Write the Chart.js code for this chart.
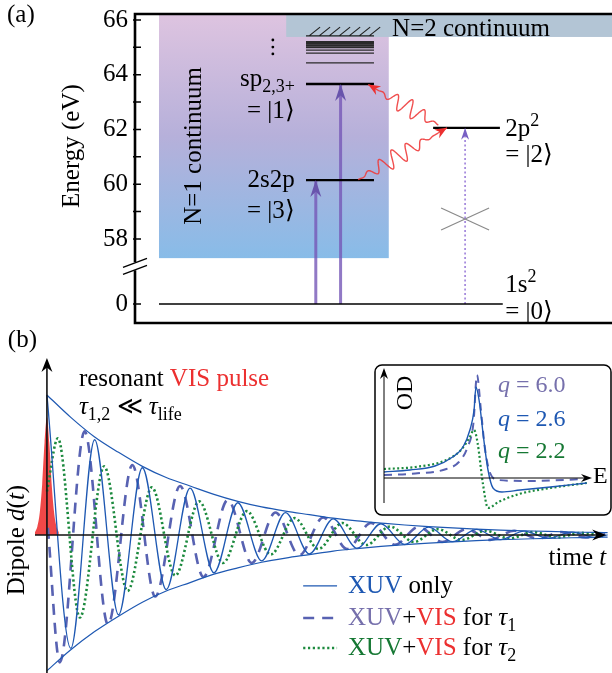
<!DOCTYPE html>
<html>
<head>
<meta charset="utf-8">
<script src="https://cdn.jsdelivr.net/npm/chart.js@4.4.1/dist/chart.umd.min.js"></script>
<style>
  html, body { margin: 0; padding: 0; background: #fff; }
  #wrap { position: relative; width: 612px; height: 673px; overflow: hidden; }
  canvas { position: absolute; }
</style>
</head>
<body>
<div id="wrap">
  <canvas id="levels" width="612" height="330" style="left:0;top:0"></canvas>
  <canvas id="dipole" width="612" height="343" style="left:0;top:330px"></canvas>
  <canvas id="inset" width="240" height="156" style="left:372px;top:362px"></canvas>
</div>
<script>
const FONT = '"Liberation Serif"';

// ---------- (a) helium level scheme, energies in eV ----------
const stateEnergies = [0, 60.15, 62.06, 63.66];          // 1s2, 2s2p, 2p2, sp2,3+
const rydbergEnergies = [64.43, 64.79, 64.90, 65.00, 65.08, 65.14, 65.20];
const continuumN1 = 57.3;      // lower edge of the shaded N=1 continuum
const continuumN2 = 65.38;     // N=2 threshold
const energyTicks = [0, 58, 59, 60, 61, 62, 63, 64, 65, 66];

// ---------- (b) dipole response ----------
const envTimes = [0, 0.5, 1, 1.5, 2, 2.5, 3, 3.5, 4, 4.5, 5, 5.5, 6, 6.5, 7, 7.5, 8, 8.5, 9, 9.5, 10, 10.5, 11, 11.5, 11.75];
const envUpper = [1.00, 0.84, 0.70, 0.59, 0.49, 0.41, 0.35, 0.29, 0.24, 0.20, 0.17, 0.145, 0.12, 0.10, 0.085, 0.071, 0.06, 0.05, 0.042, 0.035, 0.03, 0.025, 0.021, 0.018, 0.016];
const envLower = [-0.97, -0.82, -0.69, -0.58, -0.48, -0.40, -0.34, -0.28, -0.235, -0.195, -0.165, -0.14, -0.115, -0.097, -0.082, -0.069, -0.058, -0.049, -0.041, -0.034, -0.029, -0.024, -0.02, -0.017, -0.015];
const xuvOnly = [1.00, -0.81, 0.68, -0.57, 0.48, -0.39, 0.335, -0.27, 0.23, -0.185, 0.16, -0.135, 0.115, -0.095, 0.08, -0.068, 0.056, -0.048, 0.04, -0.033, 0.028, -0.024, 0.02, -0.017, 0];
const tau1Times = [0.02, 0.27, 0.79, 1.28, 1.79, 2.27, 2.79, 3.28, 3.79, 4.29, 4.79, 5.29, 5.79, 6.29, 6.79, 7.29, 7.79, 8.29, 8.79, 9.29, 9.79, 10.29, 10.79, 11.29, 11.7];
const tau1Values = [0.05, -0.91, 0.74, -0.64, 0.50, -0.44, 0.35, -0.30, 0.25, -0.20, 0.16, -0.145, 0.125, -0.10, 0.085, -0.07, 0.058, -0.05, 0.042, -0.035, 0.03, -0.025, 0.021, -0.018, 0.005];
const tau2Times = [0, 0.23, 0.69, 1.2, 1.69, 2.2, 2.69, 3.19, 3.69, 4.19, 4.69, 5.19, 5.69, 6.19, 6.69, 7.19, 7.69, 8.19, 8.69, 9.19, 9.69, 10.19, 10.69, 11.19, 11.7];
const tau2Values = [0.31, 0.69, -0.59, 0.49, -0.40, 0.34, -0.29, 0.24, -0.20, 0.17, -0.14, 0.12, -0.10, 0.085, -0.072, 0.06, -0.05, 0.042, -0.036, 0.03, -0.025, 0.021, -0.018, 0.015, -0.01];
const pulseTimes = [-0.25, -0.2, -0.15, -0.1, -0.05, 0, 0.05, 0.1, 0.15, 0.2, 0.25];
const pulseValues = [0.02, 0.06, 0.16, 0.36, 0.66, 0.84, 0.66, 0.36, 0.16, 0.06, 0.02];

// ---------- inset: line shapes (OD vs E) ----------
const q60E = [0, 1.5, 3.0, 3.6, 4.0, 4.3, 4.47, 4.65, 4.85, 5.1, 5.5, 7, 9.75];
const q60OD = [0.3, 0.45, 0.9, 1.6, 3.0, 5.5, 10.3, 7.0, 3.0, 0.5, -0.2, -0.3, -0.1];
const q26E = [0, 1.25, 2.45, 3.3, 3.8, 4.13, 4.33, 4.42, 4.57, 4.8, 5.0, 5.24, 5.67, 6.54, 8.0, 9.75];
const q26OD = [0.6, 0.8, 1.2, 2.1, 3.1, 4.8, 6.8, 9.1, 7.8, 3.8, 0.8, -1.0, -1.4, -1.2, -0.9, -0.5];
const q22E = [0, 1.5, 3.0, 3.7, 4.1, 4.33, 4.5, 4.75, 5.0, 5.5, 6.5, 8, 9.75];
const q22OD = [0.9, 1.1, 1.8, 2.8, 4.0, 4.8, 3.5, -0.5, -3.0, -2.4, -1.6, -1.0, -0.5];

const BLUE = 'rgb(30,88,178)';
const SLATE = 'rgb(88,98,178)';
const GREEN = 'rgb(28,138,62)';
const RED = 'rgb(236,48,48)';
const XUVPURPLE = 'rgba(118,88,182,0.8)';

// energies below the break are drawn just under 58 eV
const BREAK_POS = 55.625;
const axisE = e => (e < 50 ? BREAK_POS + e : e);

const xy = (xs, ys) => xs.map((x, i) => ({ x: x, y: ys[i] }));

function arrowHead(ctx, x, y, ang, len, w, color) {
  ctx.save();
  ctx.translate(x, y);
  ctx.rotate(ang);
  ctx.beginPath();
  ctx.moveTo(0, 0);
  ctx.lineTo(-len, -w);
  ctx.lineTo(-len * 0.68, 0);
  ctx.lineTo(-len, w);
  ctx.closePath();
  ctx.fillStyle = color;
  ctx.fill();
  ctx.restore();
}

// parts: [text, color, style]  style: '', 'i', 'sub', 'sup'
function rich(ctx, x, y, parts, size, align) {
  const items = parts.map(p => {
    const st = p[2] || '';
    const small = st === 'sub' || st === 'sup';
    const fs = Math.round(small ? size * 0.72 : size);
    const font = (st === 'i' ? 'italic ' : '') + fs + 'px ' + FONT;
    ctx.font = font;
    return { t: p[0], c: p[1] || '#000', font: font, w: ctx.measureText(p[0]).width,
             dy: st === 'sub' ? size * 0.24 : st === 'sup' ? -size * 0.4 : 0 };
  });
  const total = items.reduce((a, b) => a + b.w, 0);
  let cx = align === 'right' ? x - total : align === 'center' ? x - total / 2 : x;
  ctx.textAlign = 'left';
  ctx.textBaseline = 'alphabetic';
  items.forEach(it => {
    ctx.font = it.font;
    ctx.fillStyle = it.c;
    ctx.fillText(it.t, cx, y + it.dy);
    cx += it.w;
  });
}

function wavy(ctx, ax, ay, bx, by, cycles, amp) {
  const dx = bx - ax, dy = by - ay, L = Math.hypot(dx, dy);
  const nx = -dy / L, ny = dx / L;
  ctx.beginPath();
  for (let i = 0; i <= 200; i++) {
    const s = i / 200;
    const env = s < 0.86 ? Math.pow(Math.sin(Math.PI * s / 0.86), 1.4) : 0;
    const off = amp * env * Math.sin(2 * Math.PI * cycles * s);
    const px = ax + dx * s + nx * off, py = ay + dy * s + ny * off;
    if (i === 0) ctx.moveTo(px, py); else ctx.lineTo(px, py);
  }
  ctx.strokeStyle = 'rgba(238,60,60,0.9)';
  ctx.lineWidth = 1.4;
  ctx.stroke();
  arrowHead(ctx, bx, by, Math.atan2(dy, dx), 12, 5, RED);
}

function seg(x0, x1, e0, e1, color, width, dash) {
  return {
    data: [{ x: x0, y: axisE(e0) }, { x: x1, y: axisE(e1) }],
    borderColor: color, borderWidth: width, borderDash: dash || [],
    pointRadius: 0, showLine: true, fill: false
  };
}

const line = (data, color, width, dash, extra) => Object.assign({
  data: data, borderColor: color, borderWidth: width, borderDash: dash || [],
  pointRadius: 0, showLine: true, fill: false, cubicInterpolationMode: 'monotone'
}, extra || {});

// ====================== (a) ======================
const levelSets = [
  seg(5.03, 77.1, stateEnergies[0], stateEnergies[0], '#000', 1.4),
  seg(35.85, 50.1, stateEnergies[1], stateEnergies[1], '#000', 2.4),
  seg(62.5, 76.5, stateEnergies[2], stateEnergies[2], '#000', 2.4),
  seg(35.85, 50.1, stateEnergies[3], stateEnergies[3], '#000', 2.4),
  seg(37.9, 37.9, stateEnergies[0], stateEnergies[1], XUVPURPLE, 3),
  seg(43.1, 43.1, stateEnergies[0], stateEnergies[3], XUVPURPLE, 3),
  seg(69.2, 69.2, stateEnergies[0], stateEnergies[2], 'rgb(150,118,215)', 1.5, [2, 2.5]),
  seg(64.17, 74.23, 58.33, 59.13, '#8a8a8a', 1.2),
  seg(64.17, 74.23, 59.13, 58.33, '#8a8a8a', 1.2)
];
rydbergEnergies.forEach((e, i) => {
  levelSets.push(seg(35.85, 50.1, e, e, '#2a2a2a', i >= 3 ? 2 : 1.3));
});

const levelPlugin = {
  id: 'levelPlugin',
  beforeDatasetsDraw(chart) {
    const { ctx, chartArea, scales } = chart;
    const X = u => scales.x.getPixelForValue(u);
    const Y = e => scales.y.getPixelForValue(axisE(e));
    const top = chartArea.top;
    // N=1 continuum shading
    const y1 = Y(continuumN1);
    const g = ctx.createLinearGradient(0, top, 0, y1);
    g.addColorStop(0, 'rgb(222,196,224)');
    g.addColorStop(0.5, 'rgb(182,176,218)');
    g.addColorStop(1, 'rgb(136,188,232)');
    ctx.fillStyle = g;
    ctx.fillRect(X(5.03), top, X(53.2) - X(5.03), y1 - top);
    // N=2 continuum
    ctx.fillStyle = 'rgb(179,197,213)';
    ctx.fillRect(X(31.7), top, X(100) - X(31.7), Y(continuumN2) - top);
    // hatching just above the threshold
    const hb = Y(65.42), ht = Y(65.74);
    ctx.strokeStyle = '#222';
    ctx.lineWidth = 1.2;
    ctx.beginPath();
    ctx.moveTo(X(35.85), hb); ctx.lineTo(X(50.1), hb);
    for (let u = 36.5; u < 50; u += 2.1) {
      ctx.moveTo(X(u), hb); ctx.lineTo(X(u + 2.3), ht);
    }
    ctx.stroke();
  },
  afterDatasetsDraw(chart) {
    const { ctx, chartArea, scales } = chart;
    const X = u => scales.x.getPixelForValue(u);
    const Y = e => scales.y.getPixelForValue(axisE(e));
    // arrow heads
    arrowHead(ctx, X(37.9), Y(stateEnergies[1]), -Math.PI / 2, 17, 5.5, 'rgb(104,84,172)');
    arrowHead(ctx, X(43.1), Y(stateEnergies[3]), -Math.PI / 2, 17, 5.5, 'rgb(104,84,172)');
    arrowHead(ctx, X(69.2), Y(stateEnergies[2]), -Math.PI / 2, 12, 4, 'rgb(120,96,196)');
    // VIS couplings
    wavy(ctx, X(46.8), Y(60.17), X(65.4), Y(62.06), 6.5, 9);
    wavy(ctx, X(63.6), Y(62.16), X(48.9), Y(63.64), 5.2, 9);
    // vertical dots
    ctx.fillStyle = '#000';
    [65.27, 65.01, 64.76].forEach(e => {
      ctx.beginPath(); ctx.arc(X(28.9), Y(e), 1.4, 0, 2 * Math.PI); ctx.fill();
    });
    // labels
    const S = 25;
    rich(ctx, X(33.5), Y(stateEnergies[3]) + 2, [['sp'], ['2,3+', '#000', 'sub']], S, 'right');
    rich(ctx, X(33.5), Y(stateEnergies[3]) + 34, [['= |1\u27E9']], S, 'right');
    rich(ctx, X(33.5), Y(stateEnergies[1]) + 7, [['2s2p']], S, 'right');
    rich(ctx, X(33.5), Y(stateEnergies[1]) + 38, [['= |3\u27E9']], S, 'right');
    rich(ctx, X(77.6), Y(stateEnergies[2]) + 8, [['2p'], ['2', '#000', 'sup']], S, 'left');
    rich(ctx, X(77.6), Y(stateEnergies[2]) + 34, [['= |2\u27E9']], S, 'left');
    rich(ctx, X(77.6), Y(stateEnergies[0]) - 12, [['1s'], ['2', '#000', 'sup']], S, 'left');
    rich(ctx, X(77.6), Y(stateEnergies[0]) + 15, [['= |0\u27E9']], S, 'left');
    rich(ctx, X(53.9), Y(continuumN2) - 1, [['N=2 continuum']], S, 'left');
    ctx.save();
    ctx.translate(X(13.8), Y(61.4));
    ctx.rotate(-Math.PI / 2);
    rich(ctx, 0, 0, [['N=1 continuum']], S, 'center');
    ctx.restore();
    ctx.save();
    ctx.translate(79, (chartArea.top + Y(continuumN1)) / 2 + 10);
    ctx.rotate(-Math.PI / 2);
    rich(ctx, 0, 0, [['Energy (eV)']], S, 'center');
    ctx.restore();
    rich(ctx, 7, 22, [['(a)']], S, 'left');
    // frame, broken energy axis and ticks
    const ax = chartArea.left;
    const yb = Y(57.0);
    ctx.strokeStyle = '#000';
    ctx.lineWidth = 2.6;
    ctx.beginPath();
    ctx.moveTo(ax, chartArea.top); ctx.lineTo(chartArea.right, chartArea.top);
    ctx.moveTo(ax, chartArea.bottom); ctx.lineTo(chartArea.right, chartArea.bottom);
    ctx.moveTo(ax, chartArea.top - 1.3); ctx.lineTo(ax, yb - 4);
    ctx.moveTo(ax, yb + 4); ctx.lineTo(ax, chartArea.bottom + 1.3);
    ctx.stroke();
    ctx.lineWidth = 1.4;
    ctx.beginPath();
    ctx.moveTo(ax - 12, yb + 1); ctx.lineTo(ax + 12, yb - 8);
    ctx.moveTo(ax - 12, yb + 8); ctx.lineTo(ax + 12, yb - 1);
    ctx.stroke();
    ctx.lineWidth = 1.5;
    ctx.beginPath();
    energyTicks.forEach(e => {
      const ty = Y(e);
      ctx.moveTo(ax - 2, ty); ctx.lineTo(ax + 6, ty);
    });
    ctx.stroke();
  }
};

new Chart(document.getElementById('levels'), {
  type: 'scatter',
  data: { datasets: levelSets },
  options: {
    responsive: false, animation: false, devicePixelRatio: 1, events: [],
    layout: { padding: { top: 14, bottom: 7, left: 0, right: 0 } },
    plugins: { legend: { display: false }, tooltip: { enabled: false } },
    scales: {
      x: { type: 'linear', min: 0, max: 100, display: false },
      y: {
        type: 'linear', min: 54.93, max: 66.219,
        afterFit(s) { s.width = 135; s.paddingTop = 0; s.paddingBottom = 0; },
        afterBuildTicks(s) { s.ticks = energyTicks.map(e => ({ value: axisE(e) })); },
        ticks: {
          autoSkip: false, padding: 7, color: '#000',
          font: { family: FONT, size: 25 },
          callback: (v, i) => (energyTicks[i] % 2 === 0 ? String(energyTicks[i]) : '')
        },
        grid: { display: false, drawTicks: false },
        border: { display: false }
      }
    }
  },
  plugins: [levelPlugin]
});

// ====================== (b) ======================
const dipolePlugin = {
  id: 'dipolePlugin',
  afterDatasetsDraw(chart) {
    const { ctx, chartArea, scales } = chart;
    const X = t => scales.x.getPixelForValue(t);
    const Y = d => scales.y.getPixelForValue(d);
    // axes
    ctx.strokeStyle = '#111';
    ctx.lineWidth = 1.6;
    ctx.beginPath();
    ctx.moveTo(X(-0.25), Y(0)); ctx.lineTo(X(11.72) - 6, Y(0));
    ctx.moveTo(X(0), chartArea.bottom); ctx.lineTo(X(0), chartArea.top + 6);
    ctx.stroke();
    arrowHead(ctx, X(11.72), Y(0), 0, 14, 5.5, '#000');
    arrowHead(ctx, X(0), chartArea.top, -Math.PI / 2, 14, 5.5, '#000');

    const S = 25;
    rich(ctx, X(-0.82), Y(1.343), [['(b)']], S, 'left');
    rich(ctx, X(0.67), Y(1.064), [['resonant '], ['VIS pulse', RED]], S, 'left');
    rich(ctx, X(0.67), Y(0.864), [['\u03C4', '#000', 'i'], ['1,2', '#000', 'sub'], [' \u226A '], ['\u03C4', '#000', 'i'], ['life', '#000', 'sub']], S, 'left');
    rich(ctx, X(11.72), Y(-0.214), [['time '], ['t', '#000', 'i']], S, 'right');
    ctx.save();
    ctx.translate(X(-0.48), Y(-0.036));
    ctx.rotate(-Math.PI / 2);
    rich(ctx, 0, 0, [['Dipole '], ['d', '#000', 'i'], ['('], ['t', '#000', 'i'], [')']], S, 'center');
    ctx.restore();

    // legend
    const lx0 = X(5.37), lx1 = X(6.08), tx = X(6.31);
    const rows = [-0.414, -0.643, -0.857];
    ctx.save();
    ctx.lineWidth = 1.3; ctx.strokeStyle = BLUE;
    ctx.beginPath(); ctx.moveTo(lx0, Y(rows[0]) - 7); ctx.lineTo(lx1, Y(rows[0]) - 7); ctx.stroke();
    ctx.lineWidth = 2.6; ctx.strokeStyle = SLATE; ctx.setLineDash([11, 8]);
    ctx.beginPath(); ctx.moveTo(lx0, Y(rows[1]) - 7); ctx.lineTo(lx1, Y(rows[1]) - 7); ctx.stroke();
    ctx.strokeStyle = GREEN; ctx.setLineDash([2.2, 2.6]);
    ctx.beginPath(); ctx.moveTo(lx0, Y(rows[2]) - 7); ctx.lineTo(lx1, Y(rows[2]) - 7); ctx.stroke();
    ctx.restore();
    rich(ctx, tx, Y(rows[0]), [['XUV', BLUE], [' only']], S, 'left');
    rich(ctx, tx, Y(rows[1]), [['XUV', 'rgb(118,112,172)'], ['+'], ['VIS', RED], [' for '], ['\u03C4', '#000', 'i'], ['1', '#000', 'sub']], S, 'left');
    rich(ctx, tx, Y(rows[2]), [['XUV', 'rgb(22,120,52)'], ['+'], ['VIS', RED], [' for '], ['\u03C4', '#000', 'i'], ['2', '#000', 'sub']], S, 'left');
  }
};

new Chart(document.getElementById('dipole'), {
  type: 'scatter',
  data: {
    datasets: [
      line(xy(envTimes, envUpper), BLUE, 1.2),
      line(xy(envTimes, envLower), BLUE, 1.2),
      line(xy(envTimes, xuvOnly), BLUE, 1.3),
      line(xy(tau2Times, tau2Values), GREEN, 2.6, [2.2, 2.6]),
      line(xy(tau1Times, tau1Values), SLATE, 2.6, [11, 8]),
      line(xy(pulseTimes, pulseValues), 'rgba(0,0,0,0)', 0, [], { fill: 'origin', backgroundColor: 'rgba(238,52,52,0.9)' })
    ]
  },
  options: {
    responsive: false, animation: false, devicePixelRatio: 1, events: [],
    layout: { padding: { top: 28, bottom: 0, left: 35, right: 2 } },
    plugins: { legend: { display: false }, tooltip: { enabled: false } },
    scales: {
      x: { type: 'linear', min: -0.25, max: 11.8, display: false },
      y: { type: 'linear', min: -0.986, max: 1.264, display: false }
    }
  },
  plugins: [dipolePlugin]
});

// ====================== inset ======================
const insetPlugin = {
  id: 'insetPlugin',
  beforeDatasetsDraw(chart) {
    const { ctx, chartArea } = chart;
    ctx.save();
    ctx.beginPath();
    ctx.roundRect(chartArea.left - 9, chartArea.top - 3, 236, 150, 7);
    ctx.fillStyle = '#fff';
    ctx.fill();
    ctx.lineWidth = 1.5;
    ctx.strokeStyle = '#000';
    ctx.stroke();
    ctx.restore();
  },
  afterDatasetsDraw(chart) {
    const { ctx, scales } = chart;
    const X = e => scales.x.getPixelForValue(e);
    const Y = v => scales.y.getPixelForValue(v);
    ctx.strokeStyle = '#000';
    ctx.lineWidth = 1;
    ctx.beginPath();
    ctx.moveTo(X(0), Y(0)); ctx.lineTo(X(10) - 5, Y(0));
    ctx.moveTo(X(0), Y(-2.5)); ctx.lineTo(X(0), Y(11) + 5);
    ctx.stroke();
    arrowHead(ctx, X(10), Y(0), 0, 11, 4, '#000');
    arrowHead(ctx, X(0), Y(11), -Math.PI / 2, 11, 4, '#000');
    const S = 24;
    rich(ctx, X(10.05), Y(-0.5), [['E']], S, 'left');
    ctx.save();
    ctx.translate(X(1.35), Y(8.5));
    ctx.rotate(-Math.PI / 2);
    rich(ctx, 0, 0, [['OD']], S, 'center');
    ctx.restore();
    rich(ctx, X(5.48), Y(8.6), [['q', 'rgb(118,112,172)', 'i'], [' = 6.0', 'rgb(118,112,172)']], S, 'left');
    rich(ctx, X(5.48), Y(5.2), [['q', BLUE, 'i'], [' = 2.6', BLUE]], S, 'left');
    rich(ctx, X(5.48), Y(2.0), [['q', 'rgb(22,120,52)', 'i'], [' = 2.2', 'rgb(22,120,52)']], S, 'left');
  }
};

new Chart(document.getElementById('inset'), {
  type: 'scatter',
  data: {
    datasets: [
      line(xy(q26E, q26OD), BLUE, 1.4, [], { clip: false }),
      line(xy(q22E, q22OD), GREEN, 2.2, [2, 2.4], { clip: false }),
      line(xy(q60E, q60OD), SLATE, 2, [8, 6], { clip: false })
    ]
  },
  options: {
    responsive: false, animation: false, devicePixelRatio: 1, events: [],
    layout: { padding: { top: 6, bottom: 15, left: 12, right: 20 } },
    plugins: { legend: { display: false }, tooltip: { enabled: false } },
    scales: {
      x: { type: 'linear', min: 0, max: 10, display: false },
      y: { type: 'linear', min: -2.5, max: 11, display: false }
    }
  },
  plugins: [insetPlugin]
});
</script>
</body>
</html>
